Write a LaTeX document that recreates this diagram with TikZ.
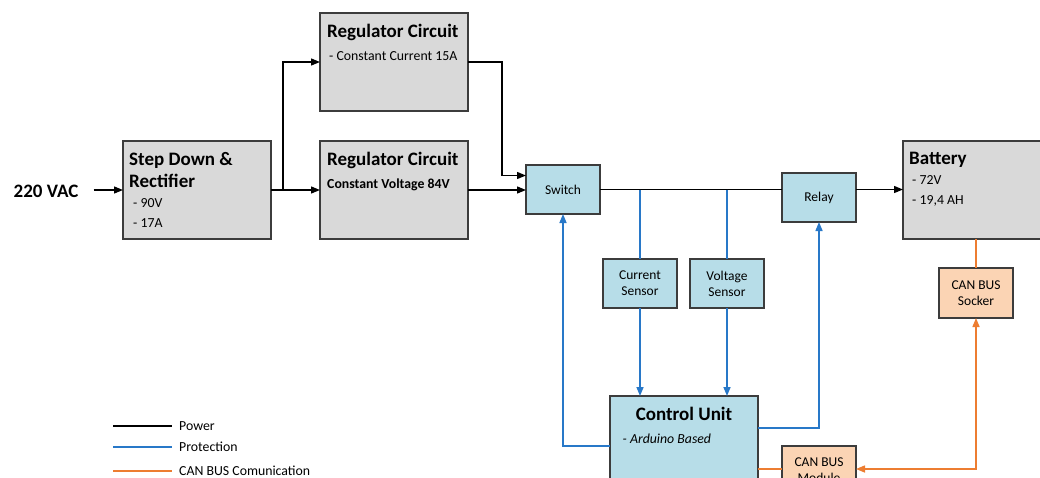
\documentclass[tikz,border=0pt]{standalone}
\usepackage{fontspec}
\setmainfont{Carlito}
\usetikzlibrary{arrows.meta,calc}
\definecolor{boxgray}{HTML}{D9D9D9}
\definecolor{boxblue}{HTML}{B7DDE8}
\definecolor{boxpeach}{HTML}{FBD4B4}
\definecolor{lineblue}{HTML}{2878C8}
\definecolor{lineorange}{HTML}{ED7D31}
\definecolor{edgegray}{HTML}{3C3C3C}
\tikzset{
  box/.style={draw=edgegray, line width=1.4pt, inner sep=0pt, outer sep=0pt},
  graybox/.style={box, fill=boxgray, minimum width=148pt, minimum height=98pt},
  bluebox/.style={box, fill=boxblue, minimum width=74pt, minimum height=49pt, font=\fontsize{13.5}{16}\selectfont, align=center},
  peachbox/.style={box, fill=boxpeach, minimum width=74pt, minimum height=50pt, font=\fontsize{13.5}{16}\selectfont, align=center},
  headtxt/.style={anchor=base west, inner sep=0pt, font=\fontsize{19}{22}\selectfont\bfseries},
  subtxt/.style={anchor=base west, inner sep=0pt, font=\fontsize{13.8}{16}\selectfont},
  plaintxt/.style={inner sep=0pt, font=\fontsize{13.5}{16}\selectfont, align=center},
  power/.style={line width=1.3pt, black},
  prot/.style={line width=1.5pt, lineblue},
  can/.style={line width=1.5pt, lineorange},
  arr/.style={-{Triangle[length=9pt,width=7pt]}},
  biarr/.style={{Triangle[length=9pt,width=7pt]}-{Triangle[length=9pt,width=7pt]}},
}
\begin{document}
\begin{tikzpicture}[x=1pt,y=-1pt]
\useasboundingbox (0,0) rectangle (1040,477);
\clip (0,0) rectangle (1040,477);
\fill[white] (0,0) rectangle (1040,477);

% boxes
\node[graybox] (sd) at (197,190) {};
\node[graybox] (rt) at (394,62) {};
\node[graybox] (rb) at (394,190) {};
\node[graybox, minimum width=160pt] (bat) at (983,190) {};
\node[bluebox] (sw) at (563,189.5) {Switch};
\node[bluebox] (relay) at (819,197.5) {Relay};
\node[bluebox] (cs) at (640,283.5) {Current\\Sensor};
\node[bluebox] (vs) at (727,283.5) {Voltage\\Sensor};
\node[box, fill=boxblue, minimum width=148pt, minimum height=124pt] (cu) at (684,458) {};
\node[peachbox, minimum height=60pt] (cm) at (819,476) {};
\node[plaintxt] (cmtxt) at (819,470) {CAN BUS\\Module};
\node[peachbox] (sock) at (976,293) {CAN BUS\\Socker};

% texts
\node[inner sep=0pt, anchor=base, font=\fontsize{19}{22}\selectfont\bfseries] (vac) at (46,197) {220 VAC};
\node[headtxt] (sdh1) at (129,165) {Step Down \&};
\node[headtxt] (sdh2) at (129,187.5) {Rectifier};
\node[subtxt] (sds1) at (133,207) {- 90V};
\node[subtxt] (sds2) at (133,227.5) {- 17A};
\node[headtxt] (rth) at (327,37.5) {Regulator Circuit};
\node[subtxt] (rts) at (329,60) {- Constant Current 15A};
\node[headtxt] (rbh) at (327,165) {Regulator Circuit};
\node[subtxt, font=\fontsize{13.8}{16}\selectfont\bfseries] (rbs) at (327,188.5) {Constant Voltage 84V};
\node[headtxt] (bath) at (909,164) {Battery};
\node[subtxt] (bats1) at (912,184) {- 72V};
\node[subtxt] (bats2) at (912,204.5) {- 19,4 AH};
\node[headtxt, anchor=base] (cuh) at (684,420) {Control Unit};
\node[subtxt, font=\fontsize{13.8}{16}\selectfont\itshape] (cus) at (622.5,443.5) {- Arduino Based};

% power connectors
\draw[power,arr] ([xshift=15pt]vac.east |- sd.west) -- (sd.west);
\coordinate (br) at (283,190);
\draw[power,arr] (sd.east) -- (rb.west);
\draw[power,arr] (br) |- (rt.west);
\coordinate (j1) at (502,62);
\draw[power,arr] (rt.east) -- (j1) |- ([yshift=14pt]sw.west);
\draw[power,arr] (rb.east) -- (rb.east -| sw.west);
\draw[power] (sw.east) -- (sw.east -| relay.west);
\draw[power,arr] (sw.east -| relay.east) -- (sw.east -| bat.west);

% protection connectors
\draw[prot] (cs.north |- sw.east) -- (cs.north);
\draw[prot,arr] (cs.south) -- (cs.south |- cu.north);
\draw[prot] (vs.north |- sw.east) -- (vs.north);
\draw[prot,arr] (vs.south) -- (vs.south |- cu.north);
\draw[prot,arr] ([yshift=30pt]cu.east) -| (relay.south);
\draw[prot,arr] ([yshift=12pt]cu.west) -| (sw.south);

% CAN bus connectors
\draw[can] ([yshift=-11pt]cu.east) -- ([yshift=-11pt]cu.east -| cm.west);
\draw[can,biarr] ([yshift=7pt]cm.east) -| (sock.south);
\draw[can] (sock.north |- bat.south) -- (sock.north);

% legend
\node[subtxt] (lg1) at (179,430.5) {Power};
\node[subtxt] (lg2) at (179,451.5) {Protection};
\node[subtxt] (lg3) at (179,475.5) {CAN BUS Comunication};
\coordinate (l1a) at (113,426); \coordinate (l1b) at (172,426);
\coordinate (l2a) at (113,447); \coordinate (l2b) at (172,447);
\coordinate (l3a) at (113,471); \coordinate (l3b) at (172,471);
\draw[power, line width=1.6pt] (l1a) -- (l1b);
\draw[prot, line width=1.8pt] (l2a) -- (l2b);
\draw[can, line width=1.8pt] (l3a) -- (l3b);
\end{tikzpicture}
\end{document}
